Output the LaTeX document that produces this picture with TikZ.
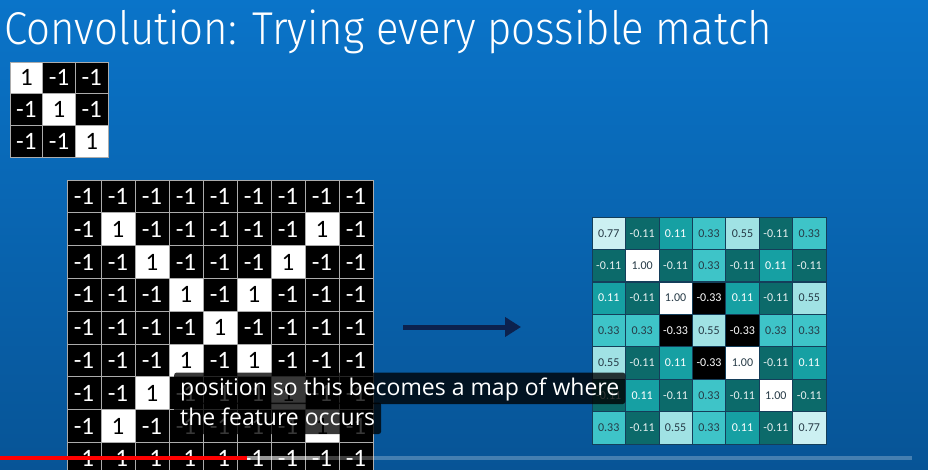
\documentclass[tikz,border=0pt]{standalone}
\usepackage{fontspec}
\newfontfamily\titlefont{Fira Sans Light}
\newfontfamily\cellfont{Carlito}
\newfontfamily\capfont{Open Sans}
\usetikzlibrary{arrows.meta}

\definecolor{slidetop}{RGB}{10,116,201}
\definecolor{slidebottom}{RGB}{7,84,150}
\definecolor{arrownavy}{RGB}{12,34,78}
\definecolor{mapline}{RGB}{20,62,90}
\definecolor{mapink}{RGB}{38,58,70}
\definecolor{mapA}{RGB}{204,240,242}
\definecolor{mapB}{RGB}{160,226,228}
\definecolor{mapC}{RGB}{62,196,200}
\definecolor{mapD}{RGB}{22,160,163}
\definecolor{mapE}{RGB}{12,106,106}

\tikzset{
  pix/.style={minimum width=34pt, minimum height=32.8pt, inner sep=0pt,
    draw=gray!65, line width=0.7pt, font=\cellfont\fontsize{25}{25}\selectfont},
  px-1/.style={pix, fill=black, text=white},
  px1/.style={pix, fill=white, text=black},
  kern-1/.style={px-1, minimum width=32.7pt, minimum height=31.7pt},
  kern1/.style={px1, minimum width=32.7pt, minimum height=31.7pt},
  mapcell/.style={minimum width=33.4pt, minimum height=32.4pt, inner sep=0pt,
    draw=mapline, line width=0.7pt, font=\cellfont\fontsize{12}{12}\selectfont},
  v1.00/.style={mapcell, fill=white, text=mapink},
  v0.77/.style={mapcell, fill=mapA, text=mapink},
  v0.55/.style={mapcell, fill=mapB, text=mapink},
  v0.33/.style={mapcell, fill=mapC, text=mapink},
  v0.11/.style={mapcell, fill=mapD, text=white},
  v-0.11/.style={mapcell, fill=mapE, text=white!90!mapE},
  v-0.33/.style={mapcell, fill=black, text=white},
  capbox/.style={fill=black, fill opacity=0.78, text opacity=1, text=white,
    rounded corners=2.5pt, inner xsep=6pt, inner ysep=1.5pt,
    text height=21pt, text depth=7.5pt, font=\capfont\fontsize{23}{23}\selectfont}
}

\begin{document}
\begin{tikzpicture}[x=1pt, y=-1pt]
\useasboundingbox (0,0) rectangle (928,470);
\clip (0,0) rectangle (928,470);
\shade[top color=slidetop, bottom color=slidebottom] (0,0) rectangle (928,470);

% Title
\node[anchor=base west, inner sep=0pt, text=white, xscale=0.912,
  font=\titlefont\fontsize{46}{46}\selectfont] (title) at (4,45)
  {Convolution: Trying every possible match};

% Feature (3x3)
\foreach \r/\row in {1/{1,-1,-1}, 2/{-1,1,-1}, 3/{-1,-1,1}} {
  \foreach \v [count=\c] in \row {
    \node[kern\v] (k-\r-\c) at ({10+32.7*(\c-0.5)}, {62+31.7*(\r-0.5)}) {\v};
  }
}

% Image (9x9)
\foreach \r/\row in {
    1/{-1,-1,-1,-1,-1,-1,-1,-1,-1},
    2/{-1,1,-1,-1,-1,-1,-1,1,-1},
    3/{-1,-1,1,-1,-1,-1,1,-1,-1},
    4/{-1,-1,-1,1,-1,1,-1,-1,-1},
    5/{-1,-1,-1,-1,1,-1,-1,-1,-1},
    6/{-1,-1,-1,1,-1,1,-1,-1,-1},
    7/{-1,-1,1,-1,-1,-1,1,-1,-1},
    8/{-1,1,-1,-1,-1,-1,-1,1,-1},
    9/{-1,-1,-1,-1,-1,-1,-1,-1,-1}} {
  \foreach \v [count=\c] in \row {
    \node[px\v] (img-\r-\c) at ({67+34*(\c-0.5)}, {180+32.8*(\r-0.5)}) {\v};
  }
}

% Arrow
\coordinate (arrowstart) at (403,327);
\coordinate (arrowend) at (521,327);
\draw[arrownavy, line width=5pt, -{Triangle[length=16pt, width=19pt]}]
  (arrowstart) -- (arrowend);

% Filtered map (7x7)
\foreach \r/\row in {
    1/{0.77,-0.11,0.11,0.33,0.55,-0.11,0.33},
    2/{-0.11,1.00,-0.11,0.33,-0.11,0.11,-0.11},
    3/{0.11,-0.11,1.00,-0.33,0.11,-0.11,0.55},
    4/{0.33,0.33,-0.33,0.55,-0.33,0.33,0.33},
    5/{0.55,-0.11,0.11,-0.33,1.00,-0.11,0.11},
    6/{-0.11,0.11,-0.11,0.33,-0.11,1.00,-0.11},
    7/{0.33,-0.11,0.55,0.33,0.11,-0.11,0.77}} {
  \foreach \v [count=\c] in \row {
    \node[v\v] (map-\r-\c) at ({592+33.43*(\c-0.5)}, {217+32.43*(\r-0.5)}) {\v};
  }
}

% Subtitles
\node[capbox, anchor=base west] (cap1) at (174,395) {position so this becomes a map of where};
\node[capbox, anchor=base west] (cap2) at (174,425) {the feature occurs};

% Progress bar
\draw[white, opacity=0.25, line width=3.5pt] (0,458) -- (912,458);
\draw[white, opacity=0.45, line width=3.5pt] (247,458) -- (320,458);
\draw[red, line width=4pt] (0,458) -- (247,458);
\end{tikzpicture}
\end{document}
